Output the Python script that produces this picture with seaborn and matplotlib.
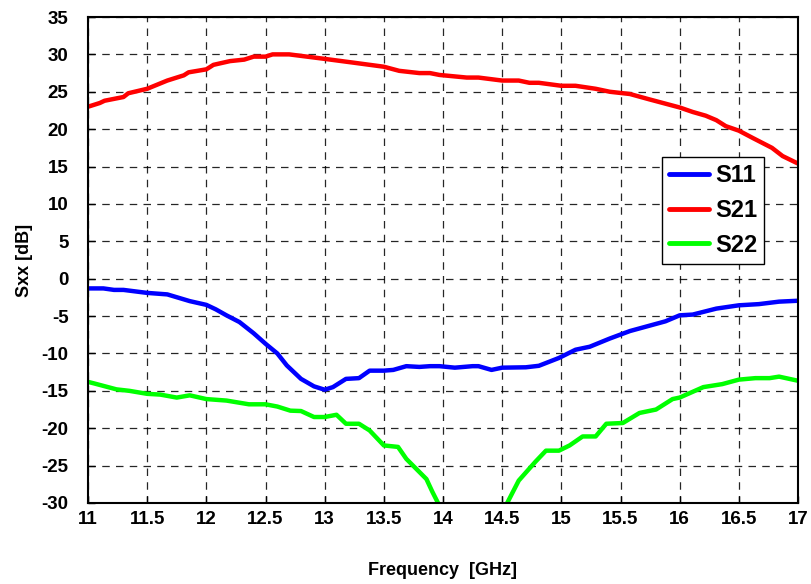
import numpy as np
import pandas as pd
import matplotlib
matplotlib.use("Agg")
import matplotlib.pyplot as plt
import seaborn as sns

# ---- data ----
s21_f = [11.0, 11.1, 11.14, 11.3, 11.34, 11.5, 11.67, 11.81, 11.85, 12.0, 12.06, 12.2, 12.32,
         12.4, 12.5, 12.56, 12.7, 13.0, 13.24, 13.5, 13.63, 13.8, 13.89, 13.97, 14.2, 14.3,
         14.5, 14.64, 14.73, 14.81, 15.0, 15.12, 15.29, 15.41, 15.58, 15.74, 16.0, 16.11,
         16.22, 16.31, 16.39, 16.5, 16.62, 16.78, 16.87, 17.0]
s21_db = [23.0, 23.5, 23.8, 24.3, 24.8, 25.4, 26.5, 27.2, 27.6, 28.0, 28.6, 29.1, 29.3,
          29.7, 29.7, 30.0, 30.0, 29.4, 28.9, 28.35, 27.8, 27.5, 27.5, 27.25, 26.9, 26.9,
          26.5, 26.5, 26.2, 26.2, 25.8, 25.8, 25.4, 25.0, 24.7, 24.0, 22.9, 22.3,
          21.8, 21.2, 20.4, 19.8, 18.8, 17.5, 16.4, 15.4]

s11_f = [11.0, 11.13, 11.22, 11.3, 11.5, 11.67, 11.86, 12.0, 12.08, 12.17, 12.28, 12.4, 12.5,
         12.6, 12.68, 12.8, 12.91, 13.0, 13.07, 13.18, 13.29, 13.38, 13.5, 13.58, 13.69, 13.8,
         13.89, 13.97, 14.1, 14.25, 14.3, 14.41, 14.5, 14.7, 14.81, 14.98, 15.12, 15.24, 15.41,
         15.58, 15.88, 16.0, 16.11, 16.31, 16.5, 16.67, 16.84, 17.0]
s11_db = [-1.3, -1.3, -1.5, -1.5, -1.9, -2.1, -3.0, -3.5, -4.1, -4.9, -5.8, -7.3, -8.7,
          -10.0, -11.6, -13.4, -14.4, -14.85, -14.5, -13.4, -13.3, -12.3, -12.3, -12.2, -11.7, -11.8,
          -11.7, -11.7, -11.9, -11.7, -11.7, -12.2, -11.9, -11.85, -11.65, -10.6, -9.5, -9.1, -8.0,
          -7.0, -5.7, -4.9, -4.8, -4.0, -3.56, -3.4, -3.07, -2.95]

s22_f = [11.0, 11.05, 11.24, 11.35, 11.5, 11.61, 11.75, 11.86, 12.0, 12.17, 12.36, 12.5, 12.6,
         12.71, 12.8, 12.91, 13.0, 13.1, 13.18, 13.29, 13.38, 13.5, 13.62, 13.69, 13.86, 13.91,
         13.99, 14.51, 14.64, 14.78, 14.87, 14.98, 15.07, 15.18, 15.29, 15.38, 15.52, 15.66,
         15.8, 15.94, 16.0, 16.2, 16.36, 16.5, 16.64, 16.76, 16.84, 17.0]
s22_db = [-13.8, -14.0, -14.8, -15.0, -15.4, -15.5, -15.9, -15.6, -16.1, -16.3, -16.8, -16.8, -17.1,
          -17.65, -17.7, -18.5, -18.5, -18.2, -19.4, -19.4, -20.3, -22.3, -22.5, -24.1, -26.8, -28.5,
          -31.0, -31.0, -27.0, -24.5, -23.0, -23.0, -22.3, -21.1, -21.1, -19.4, -19.3, -17.96,
          -17.5, -16.1, -15.9, -14.5, -14.1, -13.5, -13.3, -13.3, -13.1, -13.65]

series_names = ["S11", "S21", "S22"]
series_colors = ["#0000ff", "#ff0000", "#00ff00"]
x_ticks = [11, 11.5, 12, 12.5, 13, 13.5, 14, 14.5, 15, 15.5, 16, 16.5, 17]
x_tick_labels = ["11", "11.5", "12", "12.5", "13", "13.5", "14", "14.5", "15", "15.5", "16", "16.5", "17"]
y_ticks = list(range(-30, 36, 5))

df = pd.concat([
    pd.DataFrame({"f": s11_f, "db": s11_db, "s": "S11"}),
    pd.DataFrame({"f": s21_f, "db": s21_db, "s": "S21"}),
    pd.DataFrame({"f": s22_f, "db": s22_db, "s": "S22"}),
], ignore_index=True)

sns.set_theme(style="white")
plt.rcParams["font.family"] = ["Liberation Sans", "DejaVu Sans"]
plt.rcParams["font.weight"] = "bold"
plt.rcParams["axes.unicode_minus"] = False
plt.rcParams["text.color"] = "black"
plt.rcParams["axes.labelcolor"] = "black"
plt.rcParams["xtick.color"] = "black"
plt.rcParams["ytick.color"] = "black"

fig = plt.figure(figsize=(8.11, 5.84), dpi=100)
ax = fig.add_axes([88 / 811, 1 - 503 / 584, (798 - 88) / 811, (503 - 17) / 584])

sns.lineplot(data=df, x="f", y="db", hue="s", hue_order=series_names,
             palette=dict(zip(series_names, series_colors)), linewidth=3.2,
             sort=False, estimator=None, ax=ax)

ax.set_xlim(11, 17)
ax.set_ylim(-30, 35)
ax.set_xticks(x_ticks)
ax.set_xticklabels(x_tick_labels)
ax.set_yticks(y_ticks)
ax.grid(True, color="black", linestyle=(0, (6, 5)), linewidth=0.9, alpha=0.85)
ax.tick_params(direction="in", length=5, width=1, colors="black",
               labelsize=13.5, bottom=True, left=True)
ax.tick_params(axis="y", pad=14)
ax.tick_params(axis="x", pad=6)
for lab in ax.get_xticklabels() + ax.get_yticklabels():
    lab.set_fontweight("bold")
    lab.set_color("black")
for sp in ax.spines.values():
    sp.set_color("black")
    sp.set_linewidth(1.5)

ax.set_xlabel("Frequency  [GHz]", fontsize=13, fontweight="bold", labelpad=24, color="black")
ax.set_ylabel("Sxx [dB]", fontsize=13, fontweight="bold", labelpad=6, color="black")

leg = ax.legend(loc="upper left", bbox_to_anchor=((662 - 88) / 710, (503 - 157) / 486),
                frameon=True, fancybox=False, handlelength=1.7, handletextpad=0.25,
                labelspacing=0.5, borderpad=0.3, borderaxespad=0.0,
                prop={"size": 17, "weight": "bold"})
leg.get_frame().set_edgecolor("black")
leg.get_frame().set_linewidth(1.0)
leg.get_frame().set_alpha(1)
for t in leg.get_texts():
    t.set_color("black")
for line in leg.get_lines():
    line.set_linewidth(3.5)

fig.savefig("out.png", dpi=100)
